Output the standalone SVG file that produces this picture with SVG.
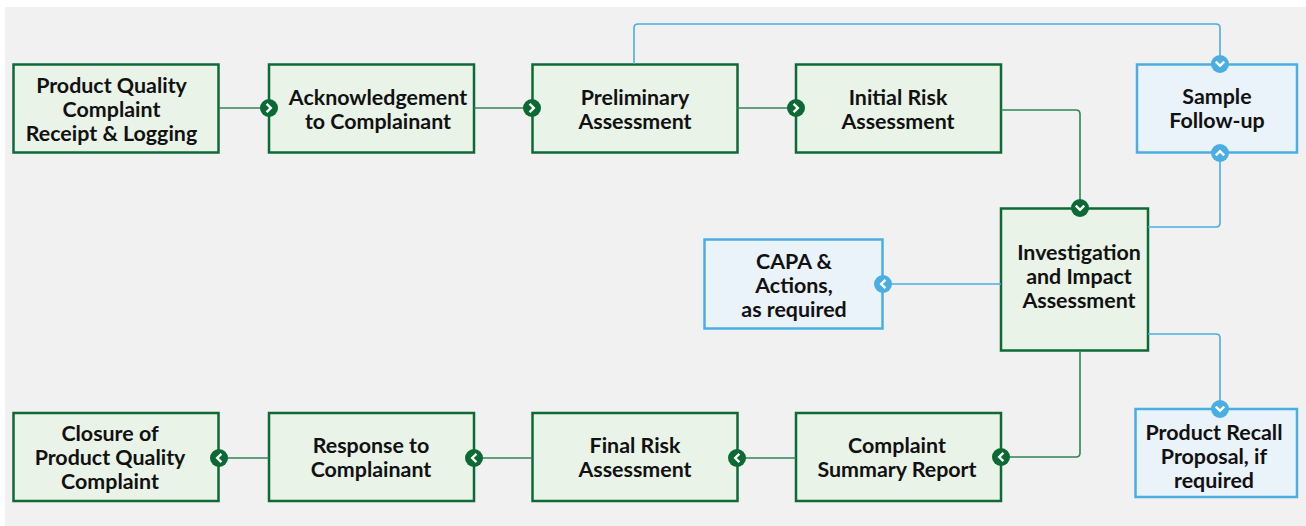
<svg xmlns="http://www.w3.org/2000/svg" width="1306" height="526" viewBox="0 0 1306 526">
<style>
.g{fill:#e9f3e8;stroke:#0d6a36;stroke-width:2.5}
.b{fill:#eaf2fa;stroke:#4aaee2;stroke-width:2.5}
.t{font-family:Lato,"Liberation Sans",sans-serif;font-weight:700;font-size:21.4px;fill:#111;text-anchor:middle}
.cg{fill:none;stroke:#2f8553;stroke-width:1.6}
.cb{fill:none;stroke:#4aaee2;stroke-width:1.6}
</style>
<defs>
<marker id="mg" markerUnits="userSpaceOnUse" markerWidth="22" markerHeight="22" refX="11" refY="11" orient="auto">
<circle cx="11" cy="11" r="9" fill="#0b6a34"/>
<path d="M8.6,6.8 L12.8,11 L8.6,15.2" fill="none" stroke="#fff" stroke-width="2.4"/>
</marker>
<marker id="mb" markerUnits="userSpaceOnUse" markerWidth="22" markerHeight="22" refX="11" refY="11" orient="auto">
<circle cx="11" cy="11" r="9" fill="#4aaee2"/>
<path d="M8.6,6.8 L12.8,11 L8.6,15.2" fill="none" stroke="#fff" stroke-width="2.4"/>
</marker>
</defs>
<rect x="0" y="0" width="1306" height="526" fill="#fff"/>
<rect x="5" y="7" width="1301" height="519" fill="#f1f1f1"/>
<g id="n1"><rect class="g" x="13.5" y="64.5" width="205" height="88"/>
<text class="t" x="111.5" y="92.5">Product Quality</text><text class="t" x="111.5" y="116.5">Complaint</text><text class="t" x="111.5" y="140.5">Receipt &amp; Logging</text></g>
<g id="n2"><rect class="g" x="269" y="64.5" width="205" height="88"/>
<text class="t" x="378" y="105">Acknowledgement</text><text class="t" x="378" y="129">to Complainant</text></g>
<g id="n3"><rect class="g" x="532.5" y="64.5" width="205" height="88"/>
<text class="t" x="635" y="105">Preliminary</text><text class="t" x="635" y="129">Assessment</text></g>
<g id="n4"><rect class="g" x="796" y="64.5" width="205" height="88"/>
<text class="t" x="898" y="105">Initial Risk</text><text class="t" x="898" y="129">Assessment</text></g>
<g id="n5"><rect class="b" x="1137" y="64.5" width="160" height="88"/>
<text class="t" x="1217" y="104">Sample</text><text class="t" x="1217" y="128">Follow-up</text></g>
<g id="n6"><rect class="g" x="1001" y="208.5" width="147" height="142"/>
<text class="t" x="1079" y="259.5">Investigation</text><text class="t" x="1079" y="283.5">and Impact</text><text class="t" x="1079" y="307.5">Assessment</text></g>
<g id="n7"><rect class="b" x="704.5" y="239.5" width="178" height="89"/>
<text class="t" x="794" y="269">CAPA &amp;</text><text class="t" x="794" y="293">Actions,</text><text class="t" x="794" y="317">as required</text></g>
<g id="n8"><rect class="b" x="1135.5" y="409" width="161.5" height="88"/>
<text class="t" x="1214" y="440">Product Recall</text><text class="t" x="1214" y="464">Proposal, if</text><text class="t" x="1214" y="488">required</text></g>
<g id="n9"><rect class="g" x="796" y="413" width="205" height="88"/>
<text class="t" x="897" y="453">Complaint</text><text class="t" x="897" y="477">Summary Report</text></g>
<g id="n10"><rect class="g" x="532.5" y="413" width="205" height="88"/>
<text class="t" x="635" y="453">Final Risk</text><text class="t" x="635" y="477">Assessment</text></g>
<g id="n11"><rect class="g" x="269" y="413" width="205" height="88"/>
<text class="t" x="371" y="453">Response to</text><text class="t" x="371" y="477">Complainant</text></g>
<g id="n12"><rect class="g" x="13.5" y="413" width="205" height="88"/>
<text class="t" x="110" y="441">Closure of</text><text class="t" x="110" y="465">Product Quality</text><text class="t" x="110" y="489">Complaint</text></g>
<g id="connectors">
<path class="cg" d="M219,108 H269" marker-end="url(#mg)"/>
<path class="cg" d="M474,108 H532" marker-end="url(#mg)"/>
<path class="cg" d="M737,108 H796" marker-end="url(#mg)"/>
<path class="cg" d="M1001,110 H1076 Q1080,110 1080,114 V208" marker-end="url(#mg)"/>
<path class="cb" d="M634,64 V28 Q634,24 638,24 H1216 Q1220,24 1220,28 V64" marker-end="url(#mb)"/>
<path class="cb" d="M1148,227 H1216 Q1220,227 1220,223 V153" marker-end="url(#mb)"/>
<path class="cb" d="M1001,284 H883" marker-end="url(#mb)"/>
<path class="cb" d="M1148,334 H1216 Q1220,334 1220,338 V409" marker-end="url(#mb)"/>
<path class="cg" d="M1080,351 V453 Q1080,457 1076,457 H1001" marker-end="url(#mg)"/>
<path class="cg" d="M796,458 H737" marker-end="url(#mg)"/>
<path class="cg" d="M532,458 H474" marker-end="url(#mg)"/>
<path class="cg" d="M269,458 H219" marker-end="url(#mg)"/>
</g>
</svg>
